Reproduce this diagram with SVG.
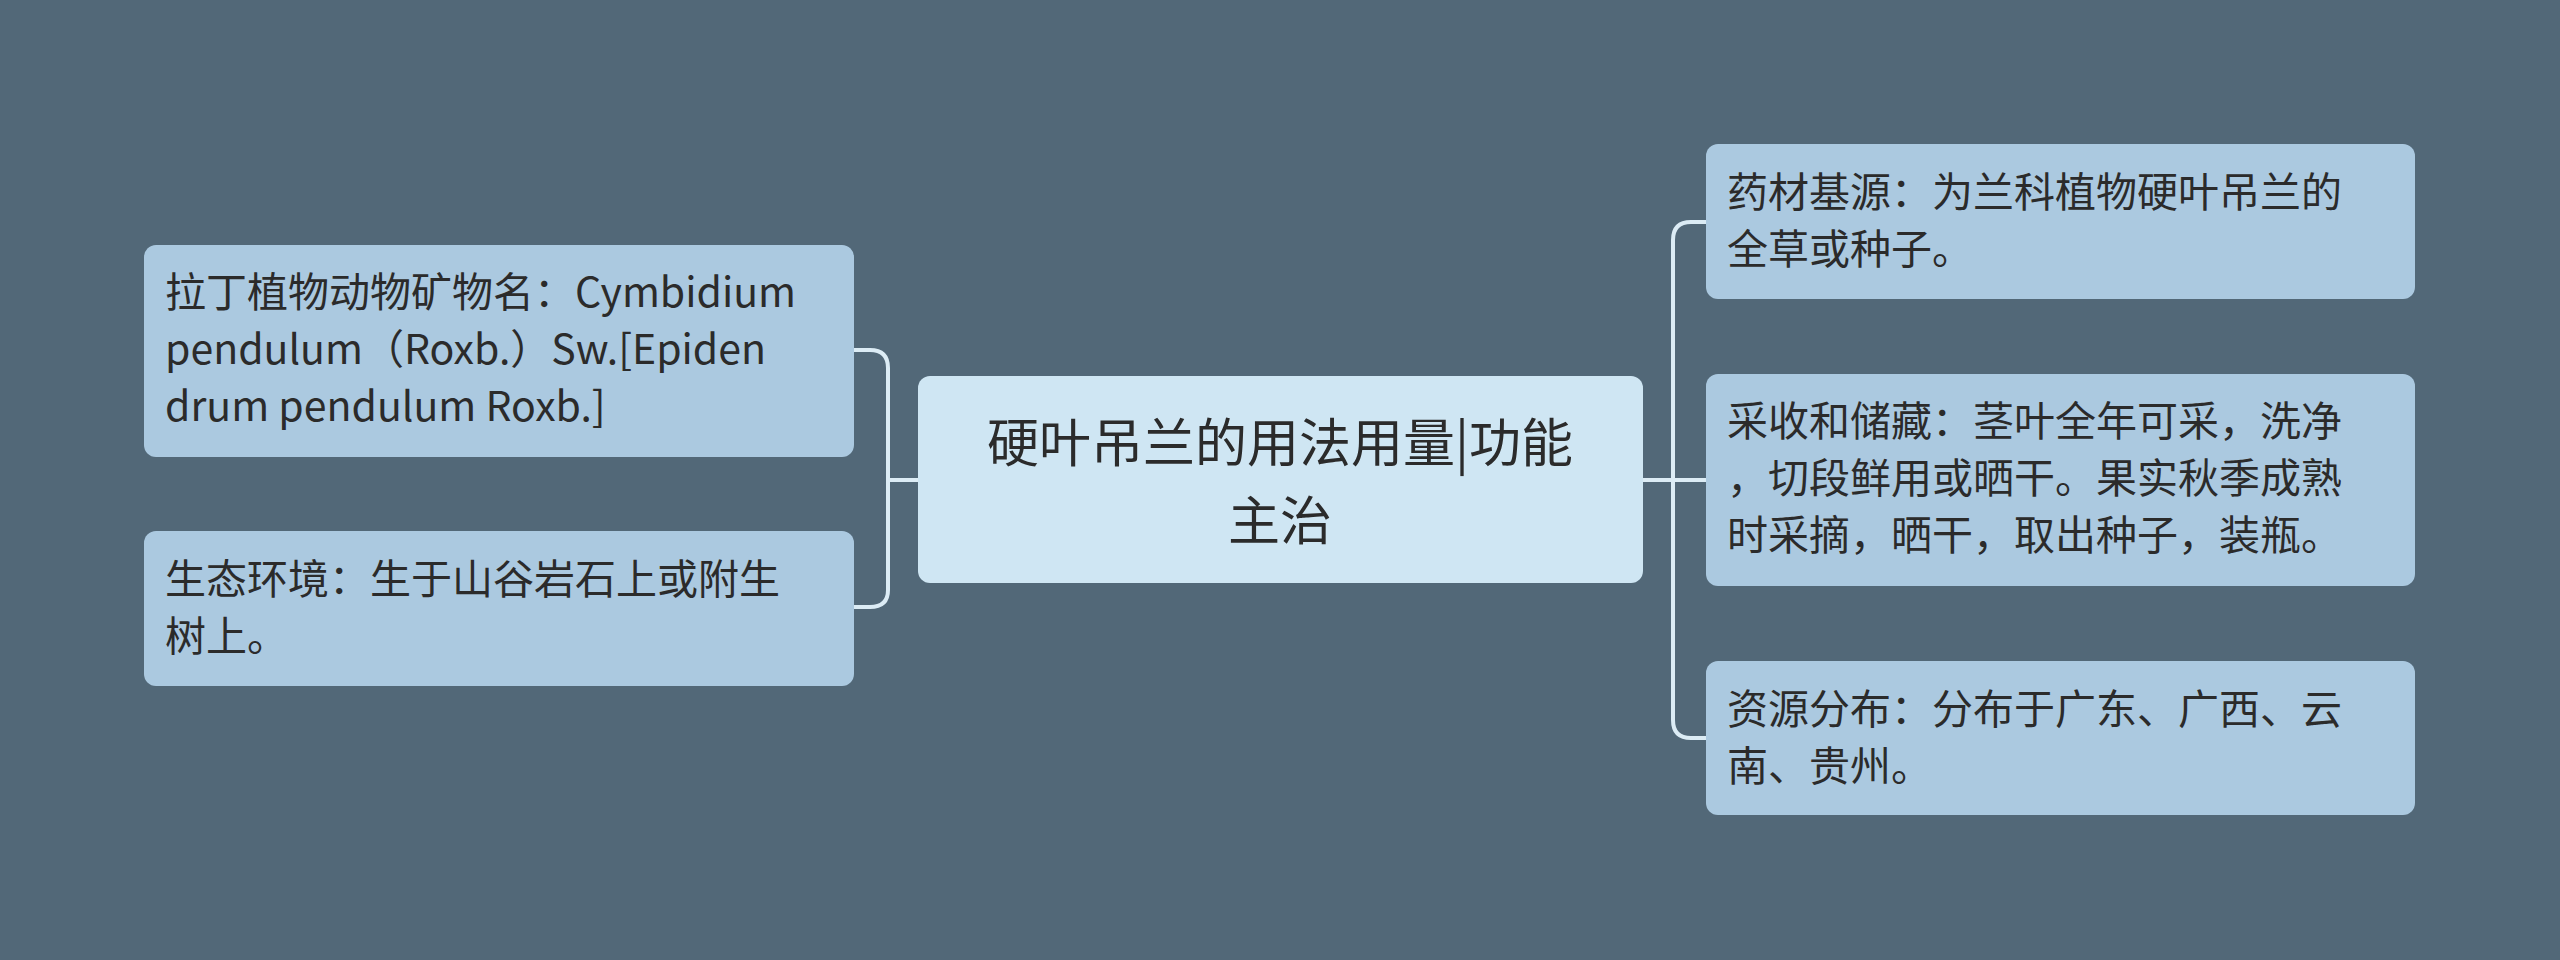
<svg xmlns="http://www.w3.org/2000/svg" width="2560" height="960" viewBox="0 0 2560 960">
<style>
text{font-family:"Noto Sans CJK SC","Noto Sans",sans-serif;fill:#2b2b2b}
.n{fill:#abc9e0}
.t{font-size:41px}
.c{font-size:52px}
.l{fill:none;stroke:#dcecf5;stroke-width:4}
</style>
<rect width="2560" height="960" fill="#526878"/>
<g id="connectors">
<path class="l" d="M918 480H888M888 480V368Q888 350 870 350H854M888 480V590Q888 607 870 607H854"/>
<path class="l" d="M1643 480H1673M1673 480V240Q1673 222 1691 222H1706M1673 480H1706M1673 480V720Q1673 738 1691 738H1706"/>
</g>
<g id="center"><rect x="918" y="376" width="725" height="207" rx="12" fill="#cfe6f3"/>
<text class="c" x="1280" y="462" text-anchor="middle">硬叶吊兰的用法用量|功能</text>
<text class="c" x="1280" y="540" text-anchor="middle">主治</text></g>
<g id="l1"><rect class="n" x="144" y="245" width="710" height="212" rx="12"/>
<text class="t" x="165" y="307">拉丁植物动物矿物名：Cymbidium</text>
<text class="t" x="165" y="364"> pendulum（Roxb.）Sw.[Epiden</text>
<text class="t" x="165" y="421">drum pendulum Roxb.]</text></g>
<g id="l2"><rect class="n" x="144" y="531" width="710" height="155" rx="12"/>
<text class="t" x="165" y="594">生态环境：生于山谷岩石上或附生</text>
<text class="t" x="165" y="651">树上。</text></g>
<g id="r1"><rect class="n" x="1706" y="144" width="709" height="155" rx="12"/>
<text class="t" x="1727" y="207">药材基源：为兰科植物硬叶吊兰的</text>
<text class="t" x="1727" y="264">全草或种子。</text></g>
<g id="r2"><rect class="n" x="1706" y="374" width="709" height="212" rx="12"/>
<text class="t" x="1727" y="436">采收和储藏：茎叶全年可采，洗净</text>
<text class="t" x="1727" y="493">，切段鲜用或晒干。果实秋季成熟</text>
<text class="t" x="1727" y="550">时采摘，晒干，取出种子，装瓶。</text></g>
<g id="r3"><rect class="n" x="1706" y="661" width="709" height="154" rx="12"/>
<text class="t" x="1727" y="724">资源分布：分布于广东、广西、云</text>
<text class="t" x="1727" y="781">南、贵州。</text></g>
</svg>
